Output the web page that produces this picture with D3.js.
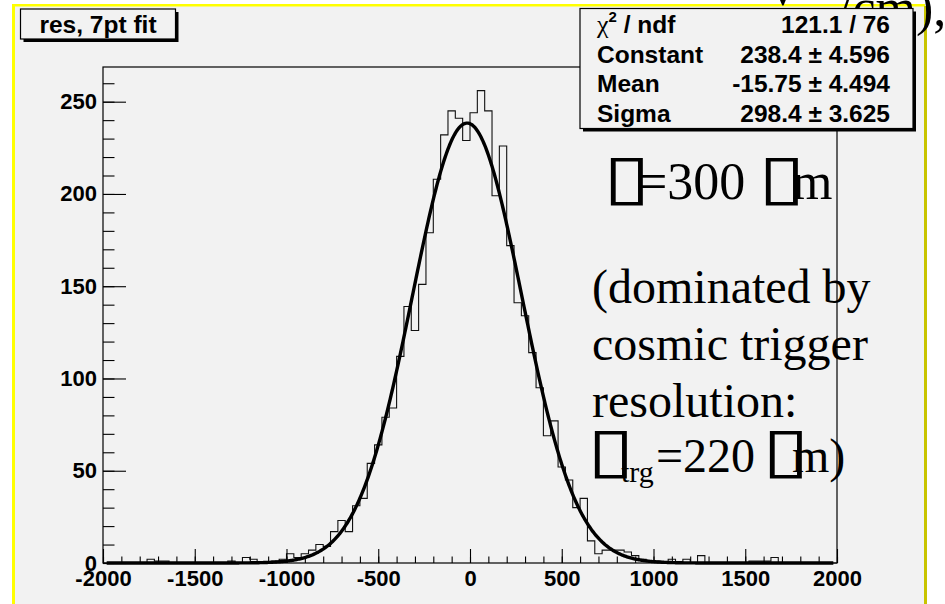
<!DOCTYPE html>
<html>
<head>
<meta charset="utf-8">
<script src="https://cdn.jsdelivr.net/npm/d3@7"></script>
<style>
  html, body { margin: 0; padding: 0; background: #ffffff; }
  svg { display: block; }
</style>
</head>
<body>
<svg id="chart" width="945" height="604"></svg>
<script>
// Histogram "res": 100 bins of 40 from -2000 to 2000
const binLow = -2000;
const binWidth = 40;
const counts = [
  0, 0, 0, 0, 0, 0, 2, 1, 1, 0,
  0, 0, 0, 0, 0, 0, 0, 1, 0, 3,
  2, 0, 0, 1, 2, 5, 3, 5, 7, 10,
  9, 17, 23, 17, 31, 35, 54, 64, 79, 84,
  112, 139, 126, 151, 179, 208, 232, 245, 241, 229,
  244, 256, 245, 199, 226, 172, 141, 134, 114, 95,
  69, 77, 52, 45, 30, 35, 12, 5, 7, 7,
  7, 6, 4, 2, 1, 1, 0, 2, 0, 2,
  0, 4, 0, 0, 0, 0, 0, 0, 1, 1,
  1, 3, 0, 0, 0, 0, 0, 0, 0, 0
];

// Gaussian fit result
const fitConstant = 238.4;
const fitMean = -15.75;
const fitSigma = 298.4;
const fitRange = [-1980, 1980];

// Axis ticks
const xMajorTicks = [-2000, -1500, -1000, -500, 0, 500, 1000, 1500, 2000];
const xMinorTicks = d3.range(-2000, 2001, 100);
const yMajorTicks = [0, 50, 100, 150, 200, 250];
const yMinorTicks = d3.range(0, 261, 10);

// Stats box rows
const statLabels = ["ndf", "Constant", "Mean", "Sigma"];
const statValues = ["121.1 / 76", "238.4 \u00b1 4.596", "-15.75 \u00b1 4.494", "298.4 \u00b1 3.625"];

const yMax = d3.max(counts) * 1.05;

const svg = d3.select("#chart");
const sans = "'Liberation Sans', Arial, Helvetica, sans-serif";
const serif = "'Liberation Serif', 'Times New Roman', Times, serif";
const boxFont = "'DejaVu Sans', sans-serif";
const padGray = "#f2f2f2";
const BOX = "\u25AF";

// Canvas frame
svg.append("rect").attr("x", 0).attr("y", 0).attr("width", 945).attr("height", 604).attr("fill", "#ffffff");
svg.append("rect").attr("x", 14).attr("y", 6).attr("width", 911).attr("height", 598).attr("fill", padGray);
svg.append("rect").attr("x", 12).attr("y", 4).attr("width", 3).attr("height", 600).attr("fill", "#ffff00");
svg.append("rect").attr("x", 12).attr("y", 4).attr("width", 913).attr("height", 2.5).attr("fill", "#ffff00");
svg.append("rect").attr("x", 924).attr("y", 6).attr("width", 3).attr("height", 598).attr("fill", "#c8c400");

// Heading cut at the top edge (lies behind the stats box)
const head = svg.append("text").attr("y", 25).style("font-family", serif).style("font-size", "52px").attr("fill", "#000");
head.append("tspan").attr("x", 764).attr("y", 5).text("V");
head.append("tspan").attr("x", 838).attr("y", 25).text("/cm),");

const plot = { left: 103, right: 837, top: 67, bottom: 563 };
const x = d3.scaleLinear().domain([-2000, 2000]).range([plot.left, plot.right]);
const y = d3.scaleLinear().domain([0, yMax]).range([plot.bottom, plot.top]);

// Plot frame
svg.append("rect")
  .attr("x", plot.left).attr("y", plot.top)
  .attr("width", plot.right - plot.left).attr("height", plot.bottom - plot.top)
  .attr("fill", "none").attr("stroke", "#000").attr("stroke-width", 1.2);

// Histogram outline
const steps = [];
counts.forEach((c, i) => {
  const lo = binLow + i * binWidth;
  steps.push([lo, c], [lo + binWidth, c]);
});
steps.unshift([binLow, 0]);
steps.push([binLow + counts.length * binWidth, 0]);
svg.append("path")
  .datum(steps)
  .attr("d", d3.line().x(d => x(d[0])).y(d => y(d[1])))
  .attr("fill", "none").attr("stroke", "#111").attr("stroke-width", 1.1);

// Fit curve
const gauss = v => fitConstant * Math.exp(-0.5 * Math.pow((v - fitMean) / fitSigma, 2));
const fitPts = d3.range(fitRange[0], fitRange[1] + 0.1, 5).map(v => [v, gauss(v)]);
svg.append("path")
  .datum(fitPts)
  .attr("d", d3.line().x(d => x(d[0])).y(d => y(d[1])))
  .attr("fill", "none").attr("stroke", "#000").attr("stroke-width", 3.4)
  .attr("stroke-linejoin", "round");

// Axes (ticks point into the frame)
const plain = d => String(d);
function styleAxis(g) {
  g.selectAll("path.domain").remove();
  g.selectAll("line").attr("stroke", "#000").attr("stroke-width", 1.1);
  g.selectAll("text").attr("fill", "#000")
    .style("font-family", sans).style("font-weight", "bold").style("font-size", "22px");
}
svg.append("g").attr("transform", `translate(0,${plot.bottom})`)
  .call(d3.axisBottom(x).tickValues(xMinorTicks).tickSizeInner(-6.5).tickSizeOuter(0).tickFormat(""))
  .call(styleAxis);
svg.append("g").attr("transform", `translate(0,${plot.bottom})`)
  .call(d3.axisBottom(x).tickValues(xMajorTicks).tickSizeInner(-14).tickSizeOuter(0).tickPadding(7).tickFormat(plain))
  .call(styleAxis);
svg.append("g").attr("transform", `translate(${plot.left},0)`)
  .call(d3.axisLeft(y).tickValues(yMinorTicks).tickSizeInner(-11.5).tickSizeOuter(0).tickFormat(""))
  .call(styleAxis);
svg.append("g").attr("transform", `translate(${plot.left},0)`)
  .call(d3.axisLeft(y).tickValues(yMajorTicks).tickSizeInner(-23).tickSizeOuter(0).tickPadding(6).tickFormat(plain))
  .call(styleAxis);

// Title box
function shadowBox(x0, y0, w, h) {
  svg.append("rect").attr("x", x0 + 3).attr("y", y0 + 3).attr("width", w).attr("height", h).attr("fill", "#000");
  svg.append("rect").attr("x", x0).attr("y", y0).attr("width", w).attr("height", h)
    .attr("fill", padGray).attr("stroke", "#000").attr("stroke-width", 1.2);
}
shadowBox(20.5, 9, 155, 30);
svg.append("text").attr("x", 98).attr("y", 32.5).attr("text-anchor", "middle")
  .style("font-family", sans).style("font-weight", "bold").style("font-size", "24.5px")
  .text("res, 7pt fit");

// Stats box
shadowBox(580, 8.5, 333, 120);
const rowY = [33.3, 62.8, 92.3, 121.8];
statLabels.forEach((lab, i) => {
  const t = svg.append("text").attr("x", 597).attr("y", rowY[i])
    .style("font-family", sans).style("font-weight", "bold").style("font-size", "24.5px");
  if (i === 0) {
    t.append("tspan").style("font-family", serif).style("font-weight", "normal").style("font-size", "26px").text("\u03c7");
    t.append("tspan").attr("dy", -11).style("font-size", "15px").text("2");
    t.append("tspan").attr("dy", 11).text(" / " + lab);
  } else {
    t.text(lab);
  }
  svg.append("text").attr("x", 890).attr("y", rowY[i]).attr("text-anchor", "end")
    .style("font-family", sans).style("font-weight", "bold").style("font-size", "24.5px")
    .text(statValues[i]);
});

// Annotation; the symbol-font letters show as empty boxes
const note = svg.append("g").style("font-family", serif).attr("fill", "#000");
function boxGlyph(tx, baseline) {
  note.append("text")
    .attr("transform", `translate(${tx},${baseline}) scale(1.4,1)`)
    .style("font-family", boxFont).style("font-size", "62px")
    .text(BOX);
}
boxGlyph(603, 198);
note.append("text").attr("x", 638).attr("y", 199).style("font-size", "52px").text("=300");
boxGlyph(758, 198);
note.append("text").attr("x", 792).attr("y", 199).style("font-size", "52px").text("m");
note.append("text").attr("x", 592).attr("y", 303).style("font-size", "48px").text("(dominated by");
note.append("text").attr("x", 592).attr("y", 360).style("font-size", "48px").text("cosmic trigger");
note.append("text").attr("x", 592).attr("y", 417).style("font-size", "48px").text("resolution:");
boxGlyph(587, 471);
note.append("text").attr("x", 621).attr("y", 482).style("font-size", "30px").text("trg");
note.append("text").attr("x", 656).attr("y", 472).style("font-size", "48px").text("=220");
boxGlyph(762, 471);
note.append("text").attr("x", 792).attr("y", 472).style("font-size", "48px").text("m)");
</script>
</body>
</html>
